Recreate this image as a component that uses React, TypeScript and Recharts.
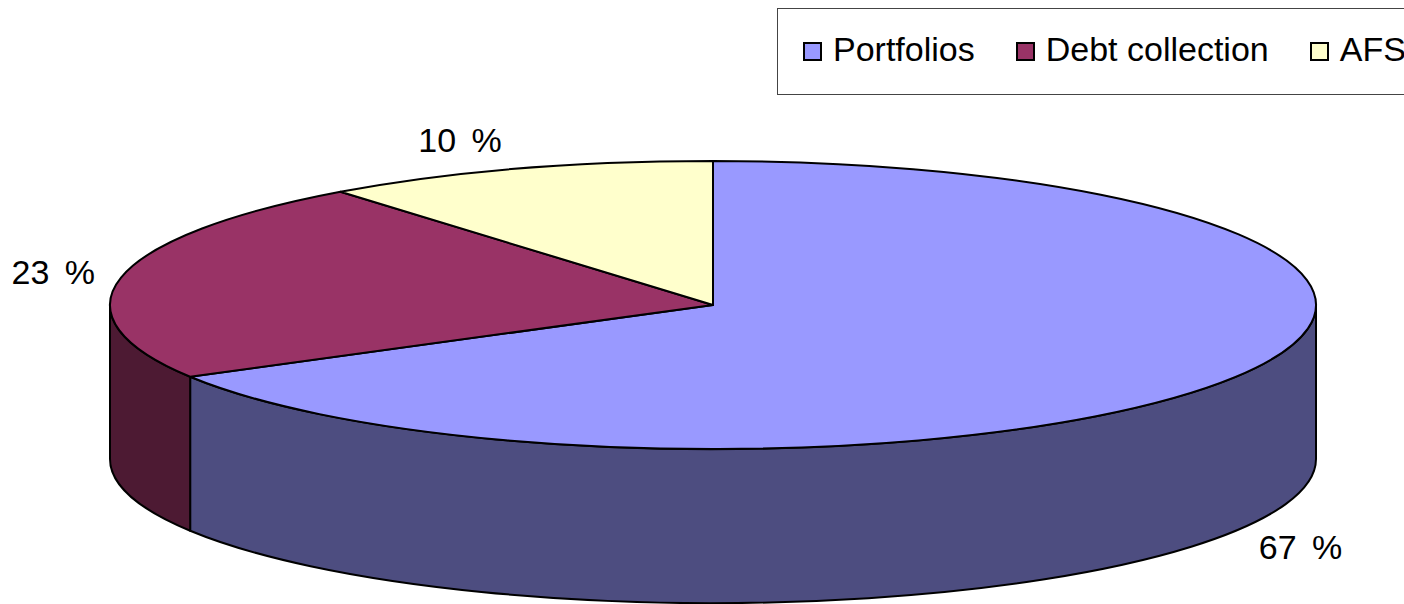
import React from "react";
import { PieChart, Pie, Legend, Cell } from "recharts";

const categories = ["Portfolios", "Debt collection", "AFS"];
const shares = [66.7, 22.7, 10.6];
const shareLabels = ["67 %", "23 %", "10 %"];
const topColors = ["#9999FF", "#993366", "#FFFFCC"];
const wallColors = ["#4D4D80", "#4D1A33", "#80806A"];

const data = categories.map((name, i) => ({ name, value: shares[i], fill: topColors[i], wall: wallColors[i], tag: shareLabels[i] }));

const W = 1404;
const H = 604;
const CX = 713;
const CY = 305;
const RX = 603;
const RY = 144;
const DEPTH = 154;
const FONT = "'Liberation Sans', Arial, sans-serif";
const FONT_SIZE = 34;

const pt = (deg: number, dy = 0) => {
  const a = (deg * Math.PI) / 180;
  return [CX + RX * Math.cos(a), CY - RY * Math.sin(a) + dy];
};
const fmt = (p: number[]) => `${p[0].toFixed(2)} ${p[1].toFixed(2)}`;

// Draws one slice as an ellipse sector with its visible outer wall, using the angles the Pie computed.
function Slice3D(props: any) {
  const { startAngle, endAngle, fill, payload } = props;
  const s = pt(startAngle);
  const e = pt(endAngle);
  const large = Math.abs(startAngle - endAngle) > 180 ? 1 : 0;
  const top = `M ${CX} ${CY} L ${fmt(s)} A ${RX} ${RY} 0 ${large} 1 ${fmt(e)} Z`;
  // Wall is visible only for the lower half: angles 0 to -180 in the Pie's clockwise direction.
  const wStart = Math.min(startAngle, 0);
  const wEnd = Math.max(endAngle, -180);
  let wall = null;
  if (wStart > wEnd) {
    const a = pt(wStart);
    const b = pt(wEnd);
    const a2 = pt(wStart, DEPTH);
    const b2 = pt(wEnd, DEPTH);
    const d = `M ${fmt(a)} A ${RX} ${RY} 0 0 1 ${fmt(b)} L ${fmt(b2)} A ${RX} ${RY} 0 0 0 ${fmt(a2)} Z`;
    wall = <path d={d} fill={payload?.wall ?? props.wall} stroke="#000" strokeWidth={2} strokeLinejoin="round" />;
  }
  return (
    <g>
      {wall}
      <path d={top} fill={fill} stroke="#000" strokeWidth={2} strokeLinejoin="round" />
    </g>
  );
}

function SliceLabel(props: any) {
  const { midAngle, index } = props;
  const a = (midAngle * Math.PI) / 180;
  const cos = Math.cos(a);
  const sin = Math.sin(a);
  const x = CX + RX * cos + Math.sign(cos) * (50 + 18 * Math.abs(cos));
  const y = CY - (RY + 31) * sin + (sin < 0 ? DEPTH : 0);
  return (
    <text x={x} y={y} textAnchor="middle" dominantBaseline="central" fontFamily={FONT} fontSize={FONT_SIZE} wordSpacing={6} fill="#000">
      {shareLabels[index]}
    </text>
  );
}

function LegendBox(props: any) {
  const payload = props.payload ?? [];
  return (
    <div style={{ display: "flex", alignItems: "center", height: "100%", whiteSpace: "nowrap", fontFamily: FONT, fontSize: FONT_SIZE, color: "#000", paddingLeft: 25, paddingBottom: 4, boxSizing: "border-box" }}>
      {payload.map((entry: any) => (
        <span key={entry.value} style={{ display: "inline-flex", alignItems: "center", marginRight: 41 }}>
          <span style={{ display: "inline-block", width: 15, height: 15, background: entry.color, border: "2px solid #000", marginRight: 11, marginTop: 3 }} />
          {entry.value}
        </span>
      ))}
    </div>
  );
}

export default function App() {
  return (
    <div style={{ position: "absolute", left: 0, top: 0, width: W, height: H, overflow: "hidden", background: "#fff" }}>
      <PieChart width={W} height={H} margin={{ top: 0, right: 0, bottom: 0, left: 0 }}>
        <Legend
          content={<LegendBox />}
          itemSorter={null}
          verticalAlign="top"
          align="left"
          wrapperStyle={{ position: "absolute", left: 777, top: 8, width: 760, height: 87, border: "1px solid #444", boxSizing: "border-box", background: "#fff" }}
        />
        <Pie
          data={data}
          dataKey="value"
          nameKey="name"
          cx={CX}
          cy={CY}
          innerRadius={0}
          outerRadius={RX}
          startAngle={90}
          endAngle={-270}
          paddingAngle={0}
          stroke="#000"
          isAnimationActive={false}
          shape={<Slice3D />}
          label={<SliceLabel />}
          labelLine={false}
        >
          {data.map((d) => (
            <Cell key={d.name} fill={d.fill} />
          ))}
        </Pie>
      </PieChart>
    </div>
  );
}
